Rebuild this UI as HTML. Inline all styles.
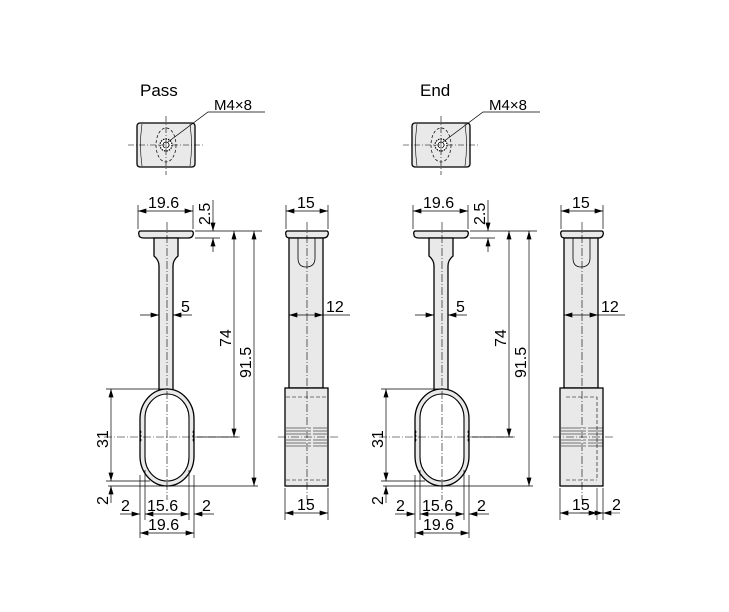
<!DOCTYPE html>
<html><head><meta charset="utf-8"><style>
html,body{margin:0;padding:0;background:#fff;}
svg{display:block;font-family:"Liberation Sans",sans-serif;}
</style></head><body>
<svg width="729" height="612" viewBox="0 0 729 612" xmlns="http://www.w3.org/2000/svg">
<defs>
<marker id="a" viewBox="0 0 10 6" refX="10" refY="3" markerWidth="9" markerHeight="5" orient="auto-start-reverse" markerUnits="userSpaceOnUse"><path d="M0,0L10,3L0,6z" fill="#000"/></marker>
<g id="common">
  <!-- top view -->
  <rect x="137" y="123" width="58" height="44" rx="3" fill="#e9e9e9" stroke="#000" stroke-width="1.3"/>
  <path d="M142,124Q139,145 142,166M190,124Q193,145 190,166" fill="none" stroke="#000" stroke-width="0.6"/>
  <ellipse cx="166" cy="145" rx="10" ry="17" fill="none" stroke="#000" stroke-width="0.7" stroke-dasharray="3,2"/>
  <circle cx="166" cy="145" r="6" fill="#fff" stroke="#000" stroke-width="1.2" stroke-dasharray="1.5,1"/>
  <circle cx="166" cy="145" r="3" fill="#fff" stroke="#000" stroke-width="0.8"/>
  <path d="M128,145H205M166,116V175" stroke="#000" stroke-width="0.6" stroke-dasharray="6,2,1,2"/>
  <path d="M168,142L208,112H265" fill="none" stroke="#000" stroke-width="0.7"/>
  <text x="214" y="110" font-size="15">M4×8</text>
  <!-- front view -->
  <g fill="#e9e9e9" stroke="#000" stroke-width="1.3">
    <path d="M140,231H192Q194,232 193,235Q192,238 188,238H144Q139,238 139,235Q138,232 140,231Z"/>
    <path d="M154,238H178V256Q173,260 173,266V392H159V266Q159,260 154,256Z"/>
    <rect x="140" y="389" width="54" height="97" rx="27" ry="30"/>
    <rect x="145" y="394" width="44" height="87" rx="22" ry="24" fill="#fff" stroke-width="1.1"/>
  </g>
  <path d="M140,430q2,2 0,4q2,2 0,4q2,2 0,4M194,430q-2,2 0,4q-2,2 0,4q-2,2 0,4" fill="none" stroke="#000" stroke-width="0.8"/>
  <path d="M167,222V500M104,437H240" stroke="#000" stroke-width="0.6" stroke-dasharray="8,2,1,2"/>
  <!-- side view -->
  <g fill="#e9e9e9" stroke="#000" stroke-width="1.3">
    <path d="M287,231H327Q329,232 328,235Q327,238 323,238H290Q286,238 286,235Q285,232 287,231Z"/>
    <rect x="289" y="238" width="34" height="150"/>
    <rect x="285" y="388" width="43" height="98"/>
  </g>
  <path d="M298,238V258Q298,267 306,267Q315,267 315,258V238" fill="none" stroke="#000" stroke-width="0.8"/>
  <path d="M307,222V500M278,437H338" stroke="#000" stroke-width="0.6" stroke-dasharray="8,2,1,2"/>
  <!-- dims -->
  <g stroke="#000" stroke-width="0.7" fill="none">
    <path d="M138,229V205M193,229V205"/>
    <path d="M138,211H193" marker-start="url(#a)" marker-end="url(#a)"/>
    <path d="M195,231H262M195,238H220"/>
    <path d="M213,200V231" marker-end="url(#a)"/><path d="M213,252V238" marker-end="url(#a)"/>
    <path d="M234,231V437" marker-start="url(#a)" marker-end="url(#a)"/>
    <path d="M254,231V486" marker-start="url(#a)" marker-end="url(#a)"/>
    <path d="M197,437H238"/>
    <path d="M108,486H258M106,481H150M106,389H165"/>
    <path d="M111,389V481" marker-start="url(#a)" marker-end="url(#a)"/>
    <path d="M111,503V486" marker-end="url(#a)"/>
    <path d="M140,475V538M145,470V520M189,470V520M194,475V538"/>
    <path d="M120,514H140" marker-end="url(#a)"/><path d="M214,514H194" marker-end="url(#a)"/>
    <path d="M145,514H189" marker-start="url(#a)" marker-end="url(#a)"/>
    <path d="M140,533H194" marker-start="url(#a)" marker-end="url(#a)"/>
    <path d="M140,315H159" marker-end="url(#a)"/><path d="M192,315H173" marker-end="url(#a)"/>
    <path d="M286,229V205M328,229V205"/>
    <path d="M286,211H328" marker-start="url(#a)" marker-end="url(#a)"/>
    <path d="M289,315H323" marker-start="url(#a)" marker-end="url(#a)"/><path d="M323,315H350"/>
    <path d="M285,488V520M328,488V520"/>
    <path d="M285,513H328" marker-start="url(#a)" marker-end="url(#a)"/>
  </g>
  <g font-size="16" fill="#000">
    <text x="148" y="208">19.6</text>
    <text x="181" y="312">5</text>
    <text x="147" y="511">15.6</text>
    <text x="121" y="511">2</text>
    <text x="202" y="511">2</text>
    <text x="148" y="530">19.6</text>
    <text x="297" y="208">15</text>
    <text x="326" y="312">12</text>
    <text x="297" y="510">15</text>
    <text transform="translate(210,225) rotate(-90)">2.5</text>
    <text transform="translate(231,347) rotate(-90)">74</text>
    <text transform="translate(251,378) rotate(-90)">91.5</text>
    <text transform="translate(108,448) rotate(-90)">31</text>
    <text transform="translate(108,505) rotate(-90)">2</text>
  </g>
</g>
</defs>
<text x="140" y="96" font-size="17">Pass</text>
<use href="#common"/>
<g transform="translate(275,0)"><use href="#common"/></g>
<text x="420" y="96" font-size="17">End</text>
<g stroke="#000" stroke-width="0.6" fill="none">
  <path d="M286,428H327M286,431H327M286,434H327M286,440H327M286,443H327M286,446H327" stroke-dasharray="20,2,3,2"/>
  <path d="M286,397H327M286,480H327" stroke-dasharray="4,2"/>
  <path d="M561,428H603M561,431H603M561,434H603M561,440H603M561,443H603M561,446H603" stroke-dasharray="20,2,3,2"/>
  <path d="M566,397H597V480M566,480H597" stroke-dasharray="4,2"/>
  <path d="M597,488V520"/>
  <path d="M580,513H597" marker-end="url(#a)"/><path d="M620,513H603" marker-end="url(#a)"/>
</g>
<text x="612" y="510" font-size="16">2</text>
</svg>
</body></html>
